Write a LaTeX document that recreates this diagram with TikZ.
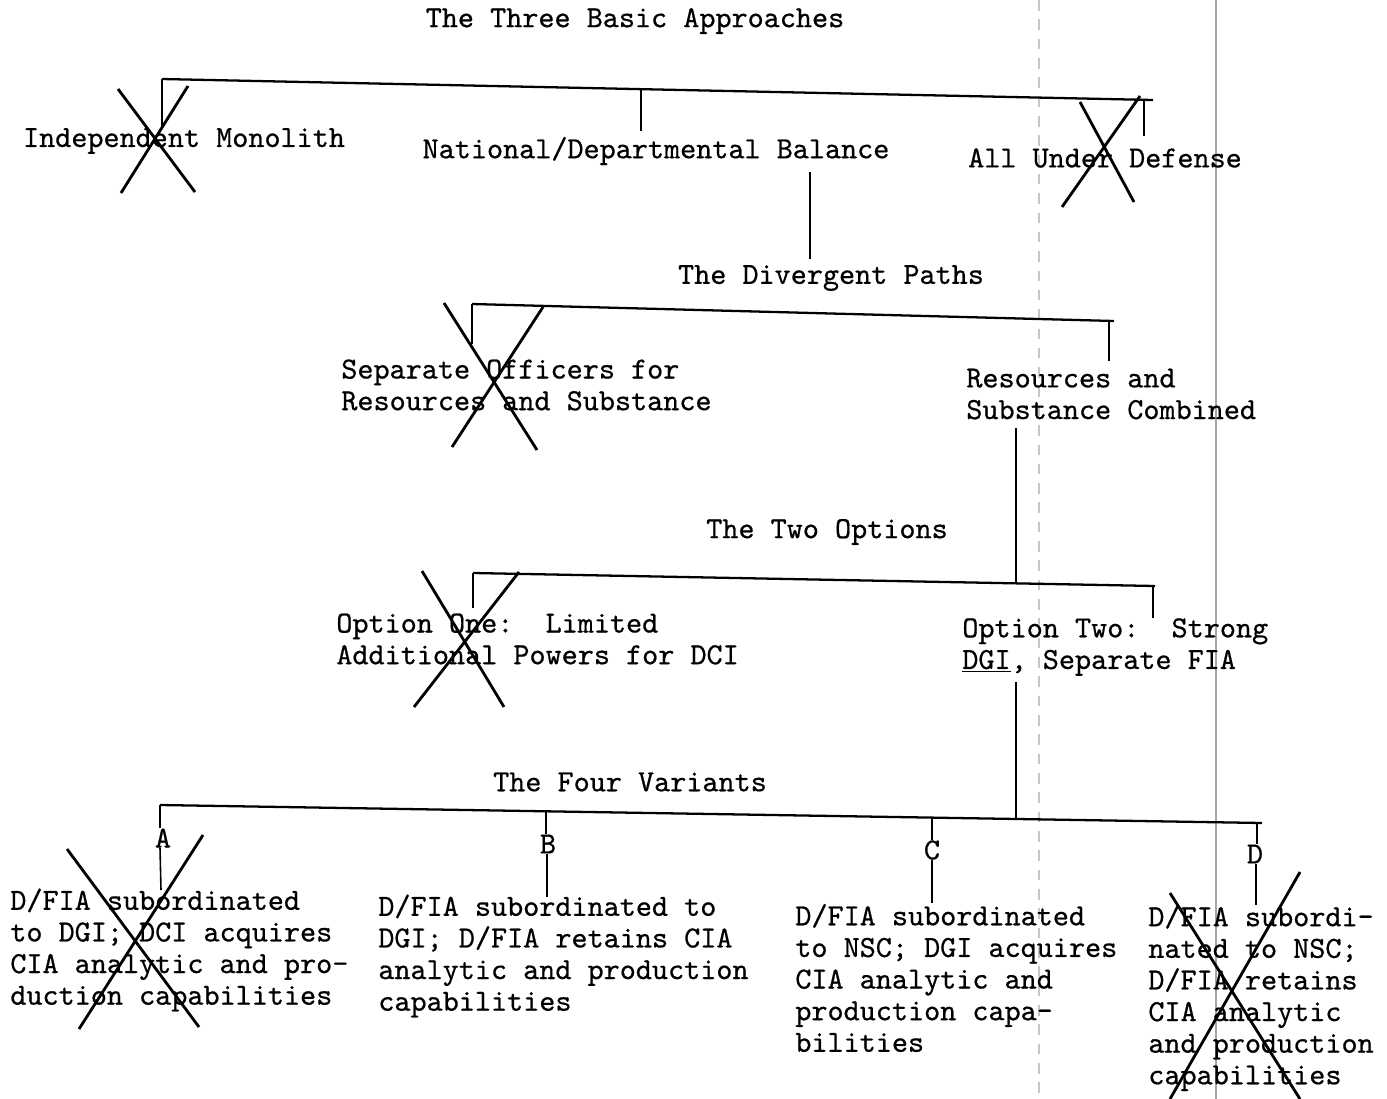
\documentclass[tikz,border=0pt]{standalone}
\usepackage{fontspec}
\newfontfamily\typefont{lmmono10-regular.otf}[FakeBold=0.6]
\usetikzlibrary{calc}
\tikzset{
    typed/.style={inner sep=0pt, font=\typefont\fontsize{17.45}{18}\selectfont},
    block/.style={typed, anchor=west, align=left},
    bar/.style={line width=1.3pt},
    drop/.style={line width=1.1pt},
    strike/.style={line width=1.6pt},
    scanline/.style={line width=.6pt, gray!70},
}

\begin{document}
\begin{tikzpicture}[x=0.02cm, y=-0.02cm]
        \useasboundingbox (0, 0) rectangle (1387, 1099);
        % marks of the copier
        \draw[scanline] (1216, 0) -- (1216, 1099);
        \draw[scanline, gray!45, dash pattern=on 6pt off 5pt] (1039, 0) -- (1039, 1099);
        % the three basic approaches
        \node[typed] (approaches) at (635, 21) {The Three Basic Approaches};
        \coordinate (topleft) at (162, 79);
        \coordinate (topright) at (1153, 100);
        \coordinate (topmid) at (641, 89);
        \coordinate (topend) at (1144, 100);
        \draw[bar] (topleft) -- (topright);
        \node[typed] (monolith) at (184, 141) {Independent Monolith};
        \node[typed] (balance) at (656, 151) {National/Departmental Balance};
        \node[typed] (defense) at (1105, 158) {All Under Defense};
        \draw[drop] (topleft) -- (162, 128);
        \draw[drop] (topmid) -- (641, 131);
        \draw[drop] (topend) -- (1144, 136);
        \draw[strike] (118, 89) -- (195, 192) (188, 86) -- (121, 193);
        \draw[strike] (1080, 102) -- (1134, 202) (1140, 96) -- (1062, 207);
        % the divergent paths
        \node[typed] (paths) at (831, 278) {The Divergent Paths};
        \draw[drop] (810, 172) -- (810, 259);
        \coordinate (pathleft) at (472, 304);
        \coordinate (pathright) at (1114, 321);
        \coordinate (pathend) at (1109, 321);
        \draw[bar] (pathleft) -- (pathright);
        \draw[drop] (pathleft) -- (472, 344);
        \draw[drop] (pathend) -- (1109, 361);
        \node[block] (separate) at (341, 385) {Separate Officers for\\Resources and Substance};
        \node[block] (combined) at (966, 394) {Resources and\\Substance Combined};
        \draw[strike] (444, 303) -- (537, 450) (543, 307) -- (452, 447);
        % the two options
        \node[typed] (options) at (827, 532) {The Two Options};
        \coordinate (optleft) at (473, 573);
        \coordinate (optright) at (1155, 586);
        \coordinate (optend) at (1153, 586);
        \draw[drop] (1016, 428) -- (1016, 583);
        \draw[bar] (optleft) -- (optright);
        \draw[drop] (optleft) -- (473, 608);
        \draw[drop] (optend) -- (1153, 618);
        \node[block] (optone) at (336, 639) {Option One:\ \ Limited\\Additional Powers for DCI};
        \node[block] (opttwo) at (962, 647) {Option Two:\ \ Strong\\\underline{DGI}, Separate FIA};
        \draw[strike] (422, 571) -- (504, 707) (519, 572) -- (414, 707);
        % the four variants
        \node[typed] (variants) at (630, 782) {The Four Variants};
        \coordinate (varleft) at (160, 805);
        \coordinate (varright) at (1262, 823);
        \draw[drop] (1016, 682) -- (1016, 819);
        \draw[bar] (varleft) -- (varright);
        \node[typed] (a) at (163, 838) {A};
        \node[typed] (b) at (548, 844) {B};
        \node[typed] (c) at (932, 850) {C};
        \node[typed] (d) at (1255, 854) {D};
        \draw[drop] (varleft) -- (a.north -| varleft);
        \draw[drop] (546, 812) -- (b.north -| 546, 0);
        \draw[drop] (932, 818) -- (c.north);
        \draw[drop] (1257, 823) -- (d.north -| 1257, 0);
        \draw[drop, line width=.9pt] (a.south -| varleft) -- (161, 890);
        \draw[drop, line width=.9pt] (b.south -| 547, 0) -- (547, 897);
        \draw[drop, line width=.9pt] (c.south) -- (932, 903);
        \draw[drop, line width=.9pt] (d.south -| 1256, 0) -- (1256, 905);
        \node[block] (varianta) at (10, 950) {D/FIA subordinated\\to DGI; DCI acquires\\CIA analytic and pro-\\duction capabilities};
        \node[block] (variantb) at (378, 956) {D/FIA subordinated to\\DGI; D/FIA retains CIA\\analytic and production\\capabilities};
        \node[block] (variantc) at (795, 978) {D/FIA subordinated\\to NSC; DGI acquires\\CIA analytic and\\production capa-\\bilities};
        \node[block] (variantd) at (1148, 998) {D/FIA subordi-\\nated to NSC;\\D/FIA retains\\CIA analytic\\and production\\capabilities};
        \draw[strike] (67, 849) -- (199, 1027) (203, 835) -- (79, 1029);
        \draw[strike] (1170, 893) -- (1300, 1099) (1300, 872) -- (1170, 1099);
    \end{tikzpicture}
\end{document}
